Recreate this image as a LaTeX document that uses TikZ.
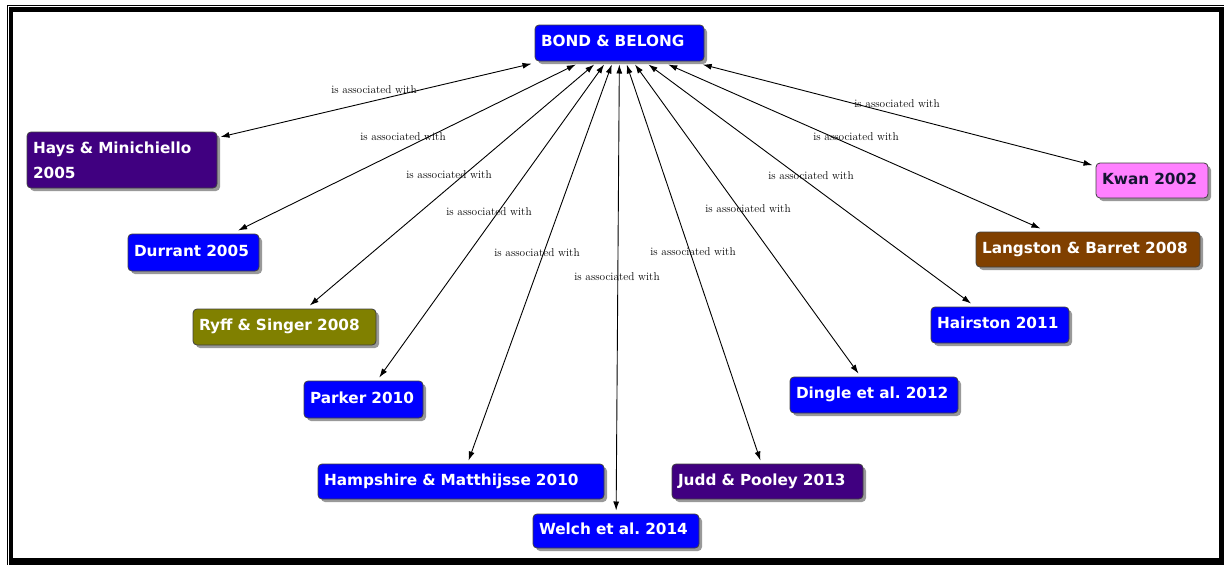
\documentclass[tikz,border=0pt]{standalone}
\usepackage{fontspec}
\newfontfamily\conceptfont{DejaVu Sans}
\usetikzlibrary{arrows.meta,shadows}
\frenchspacing

\definecolor{cblue}{RGB}{0,0,255}
\definecolor{cpurple}{RGB}{64,0,128}
\definecolor{colive}{RGB}{128,128,0}
\definecolor{cbrown}{RGB}{128,64,0}
\definecolor{cpink}{RGB}{255,128,255}
\definecolor{cnavy}{RGB}{20,20,50}

\begin{document}
\begin{tikzpicture}[x=1pt,y=-1pt,
  concept/.style={draw=black!75, line width=0.8pt, rounded corners=4pt,
    text=white, font=\conceptfont\bfseries\fontsize{15.3}{25}\selectfont,
    minimum height=35pt, inner xsep=6pt, inner ysep=0pt, align=left,
    text height=11pt, text depth=4pt, outer sep=3.5pt,
    drop shadow={shadow xshift=3pt, shadow yshift=-3pt, fill=black, opacity=0.4}},
  link/.style={{Latex[length=9pt,width=6pt]}-{Latex[length=9pt,width=6pt]}, line width=0.9pt},
  linklabel/.style={font=\fontsize{11.3}{12}\selectfont, text=black, inner sep=0pt}
]
\useasboundingbox (0,0) rectangle (1224,565);

% window frame
\fill[black] (7,5) rectangle (1224,6.3);
\fill[black] (7,5) rectangle (8.2,565);
\fill[black] (9.3,7.3) rectangle (1224,12.3);
\fill[black] (9.3,7.3) rectangle (13.3,565);
\fill[black] (1219,7.3) rectangle (1224,565);
\fill[black] (9.3,558) rectangle (1224,565);

% concepts
\node[concept, fill=cblue, text width=157pt, minimum height=36pt] (bond) at (619.5,43) {BOND \& BELONG};
\node[concept, fill=cpurple, text width=178pt, minimum height=56pt, text depth=25pt] (hays) at (122,160) {Hays \& Minichiello\\2005};
\node[concept, fill=cblue, text width=119pt, minimum height=37pt] (durrant) at (193.5,252.5) {Durrant 2005};
\node[concept, fill=colive, text width=171pt, minimum height=36pt] (ryff) at (284.5,327) {Ryff \& Singer 2008};
\node[concept, fill=cblue, text width=107pt, minimum height=37pt] (parker) at (363.5,399.5) {Parker 2010};
\node[concept, fill=cblue, text width=274pt] (hampshire) at (461,481.5) {Hampshire \& Matthijsse 2010};
\node[concept, fill=cblue, text width=154pt, minimum height=34pt] (welch) at (616,531) {Welch et al. 2014};
\node[concept, fill=cpurple, text width=179pt] (judd) at (767.5,481.5) {Judd \& Pooley 2013};
\node[concept, fill=cblue, text width=156pt, minimum height=36pt] (dingle) at (874,395) {Dingle et al. 2012};
\node[concept, fill=cblue, text width=126pt, minimum height=36pt] (hairston) at (1000,325) {Hairston 2011};
\node[concept, fill=cbrown, text width=212pt] (langston) at (1088,249.5) {Langston \& Barret 2008};
\node[concept, fill=cpink, text=cnavy, text width=100pt] (kwan) at (1152,180.5) {Kwan 2002};

% links
\foreach \t in {hays,durrant,ryff,parker,hampshire,welch,judd,dingle,hairston,langston,kwan}
  \draw[link] (bond) -- (\t);

% link labels
\node[linklabel] (lhays) at (374,90) {is associated with};
\node[linklabel] (ldurrant) at (403,137) {is associated with};
\node[linklabel] (lryff) at (449,175) {is associated with};
\node[linklabel] (lparker) at (489,212) {is associated with};
\node[linklabel] (lhampshire) at (537,253) {is associated with};
\node[linklabel] (lwelch) at (617,277) {is associated with};
\node[linklabel] (ljudd) at (693,252) {is associated with};
\node[linklabel] (ldingle) at (748,209) {is associated with};
\node[linklabel] (lhairston) at (811,176) {is associated with};
\node[linklabel] (llangston) at (856,137) {is associated with};
\node[linklabel] (lkwan) at (897,104) {is associated with};
\end{tikzpicture}
\end{document}
